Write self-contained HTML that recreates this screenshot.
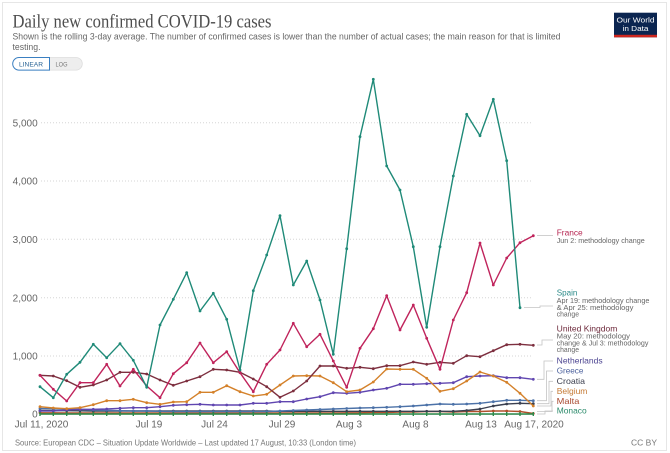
<!DOCTYPE html>
<html>
<head>
<meta charset="utf-8">
<style>
  html,body{margin:0;padding:0;background:#fff;}
  svg{display:block;}
  text{font-family:"Liberation Sans",sans-serif;}
</style>
</head>
<body>
<svg width="670" height="453" viewBox="0 0 670 453" xmlns="http://www.w3.org/2000/svg">
  <defs>
    <marker id="mSp" markerUnits="userSpaceOnUse" markerWidth="4" markerHeight="4" refX="2" refY="2"><circle cx="2" cy="2" r="1.4" fill="#1f8a78"/></marker>
    <marker id="mFr" markerUnits="userSpaceOnUse" markerWidth="4" markerHeight="4" refX="2" refY="2"><circle cx="2" cy="2" r="1.4" fill="#c0245c"/></marker>
    <marker id="mUk" markerUnits="userSpaceOnUse" markerWidth="4" markerHeight="4" refX="2" refY="2"><circle cx="2" cy="2" r="1.4" fill="#7d2f3f"/></marker>
    <marker id="mBe" markerUnits="userSpaceOnUse" markerWidth="4" markerHeight="4" refX="2" refY="2"><circle cx="2" cy="2" r="1.4" fill="#d4812a"/></marker>
    <marker id="mNl" markerUnits="userSpaceOnUse" markerWidth="4" markerHeight="4" refX="2" refY="2"><circle cx="2" cy="2" r="1.4" fill="#6046b0"/></marker>
    <marker id="mGr" markerUnits="userSpaceOnUse" markerWidth="4" markerHeight="4" refX="2" refY="2"><circle cx="2" cy="2" r="1.4" fill="#4c72a8"/></marker>
    <marker id="mHr" markerUnits="userSpaceOnUse" markerWidth="4" markerHeight="4" refX="2" refY="2"><circle cx="2" cy="2" r="1.4" fill="#3b4050"/></marker>
    <marker id="mMt" markerUnits="userSpaceOnUse" markerWidth="4" markerHeight="4" refX="2" refY="2"><circle cx="2" cy="2" r="1.4" fill="#b0502d"/></marker>
    <marker id="mMc" markerUnits="userSpaceOnUse" markerWidth="4" markerHeight="4" refX="2" refY="2"><rect x="1.3" y="0" width="1.4" height="4" fill="#2c8a4a"/></marker>
  </defs>

  <rect x="0" y="0" width="670" height="453" fill="#fff"/>
  <rect x="2.5" y="2.5" width="664" height="448" fill="none" stroke="#e6e6e6" stroke-width="1"/>

  <!-- Header -->
  <text x="12.5" y="27.5" font-family="'Liberation Serif',serif" font-size="18.5" fill="#4d4d4d" textLength="259" lengthAdjust="spacingAndGlyphs" style="font-family:'Liberation Serif',serif">Daily new confirmed COVID-19 cases</text>
  <text x="12.5" y="39.5" font-size="9.6" fill="#666" textLength="548" lengthAdjust="spacingAndGlyphs">Shown is the rolling 3-day average. The number of confirmed cases is lower than the number of actual cases; the main reason for that is limited</text>
  <text x="12.5" y="50" font-size="9.6" fill="#666" textLength="28" lengthAdjust="spacingAndGlyphs">testing.</text>

  <!-- LINEAR / LOG toggle -->
  <path d="M49.5,57.5 H76 a6.3,6.3 0 0 1 0,12.6 H49.5 Z" fill="#eeeeee" stroke="#dddddd" stroke-width="0.8"/>
  <path d="M49.5,57.5 H19 a6.3,6.3 0 0 0 0,12.6 H49.5 Z" fill="#fff" stroke="#3a7fc1" stroke-width="1"/>
  <text x="31" y="66.3" font-size="6.6" fill="#2a6496" text-anchor="middle" textLength="24" lengthAdjust="spacingAndGlyphs">LINEAR</text>
  <text x="61.5" y="66.3" font-size="6.6" fill="#777" text-anchor="middle" textLength="12" lengthAdjust="spacingAndGlyphs">LOG</text>

  <!-- Logo -->
  <rect x="614" y="12.7" width="43" height="24.6" fill="#0b2550"/>
  <rect x="614" y="34.8" width="43" height="2.5" fill="#ce261e"/>
  <text x="635.5" y="22.3" font-size="7.6" fill="#fff" text-anchor="middle" textLength="38" lengthAdjust="spacingAndGlyphs">Our World</text>
  <text x="635.5" y="31.2" font-size="7.6" fill="#fff" text-anchor="middle" textLength="26" lengthAdjust="spacingAndGlyphs">in Data</text>

  <!-- Grid -->
  <g stroke="#d6d6d6" stroke-width="1" stroke-dasharray="1,2">
    <line x1="41" y1="122.7" x2="533" y2="122.7"/>
    <line x1="41" y1="181" x2="533" y2="181"/>
    <line x1="41" y1="239.3" x2="533" y2="239.3"/>
    <line x1="41" y1="297.7" x2="533" y2="297.7"/>
    <line x1="41" y1="356" x2="533" y2="356"/>
  </g>
  <line x1="40" y1="414.3" x2="534" y2="414.3" stroke="#bbb" stroke-width="1"/>

  <!-- Y labels -->
  <g font-size="10" fill="#666" text-anchor="end">
    <text x="37.7" y="126.3">5,000</text>
    <text x="37.7" y="184.6">4,000</text>
    <text x="37.7" y="242.9">3,000</text>
    <text x="37.7" y="301.3">2,000</text>
    <text x="37.7" y="359.6">1,000</text>
    <text x="37.7" y="417.5">0</text>
  </g>

  <!-- X labels -->
  <g font-size="10" fill="#666" text-anchor="middle">
    <text x="41.5" y="427.5">Jul 11, 2020</text>
    <text x="149" y="427.5">Jul 19</text>
    <text x="214.5" y="427.5">Jul 24</text>
    <text x="282" y="427.5">Jul 29</text>
    <text x="349" y="427.5">Aug 3</text>
    <text x="415.5" y="427.5">Aug 8</text>
    <text x="481" y="427.5">Aug 13</text>
    <text x="534" y="427.5">Aug 17, 2020</text>
  </g>

  <!-- Series -->
  <g fill="none" stroke-width="1.4" stroke-linejoin="round">
    <polyline stroke="#b0502d" marker-start="url(#mMt)" marker-mid="url(#mMt)" marker-end="url(#mMt)" points="40,412.8 53.3,412.8 66.7,413 80,413 93.3,413 106.7,413 120,413 133.3,413 146.7,413 160,413 173.3,413 186.7,413 200,413 213.3,413 226.7,413 240,413 253.3,413 266.7,413 280,413 293.3,413 306.7,413 320,413 333.3,413 346.7,412.8 360,412.8 373.3,412.5 386.7,412.5 400,412 413.3,412 426.7,411.5 440,411.5 453.3,412 466.7,411.5 480,411.5 493.3,411 506.7,411 520,411.5 533.3,413.5"/>
    <polyline stroke="#3b4050" marker-start="url(#mHr)" marker-mid="url(#mHr)" marker-end="url(#mHr)" points="40,410.5 53.3,410.5 66.7,410.7 80,410.8 93.3,411 106.7,411 120,411 133.3,411 146.7,411 160,411 173.3,411 186.7,411 200,411 213.3,411 226.7,411 240,411 253.3,411 266.7,411 280,411.3 293.3,411.3 306.7,411.3 320,411.3 333.3,411.3 346.7,411.3 360,411.3 373.3,411.3 386.7,411.3 400,411.3 413.3,411.3 426.7,411.3 440,411.3 453.3,411.3 466.7,410.5 480,409 493.3,406 506.7,404 520,403.3 533.3,403.7"/>
    <polyline stroke="#4c72a8" marker-start="url(#mGr)" marker-mid="url(#mGr)" marker-end="url(#mGr)" points="40,408.5 53.3,408.7 66.7,409 80,409.5 93.3,410 106.7,410.3 120,410.7 133.3,411 146.7,411 160,411.3 173.3,411.5 186.7,411.5 200,411.5 213.3,411.5 226.7,411.5 240,411.5 253.3,411.5 266.7,411.5 280,411 293.3,410.5 306.7,410 320,409.5 333.3,409 346.7,408.5 360,408 373.3,407.7 386.7,407.3 400,406.7 413.3,406 426.7,405 440,404 453.3,404.3 466.7,404 480,403.3 493.3,401.7 506.7,400.3 520,400.3 533.3,400.7"/>
    <polyline stroke="#6046b0" marker-start="url(#mNl)" marker-mid="url(#mNl)" marker-end="url(#mNl)" points="40,411 53.3,411 66.7,410 80,409.3 93.3,409.3 106.7,409 120,408.3 133.3,407.7 146.7,407.7 160,406.7 173.3,405.3 186.7,404.7 200,404.3 213.3,405 226.7,405 240,405 253.3,403.3 266.7,403.3 280,401.7 293.3,401.7 306.7,399 320,396.7 333.3,392.7 346.7,393.3 360,392.3 373.3,390 386.7,388.3 400,384.3 413.3,384.3 426.7,383.7 440,383.3 453.3,382.7 466.7,376.7 480,376 493.3,375.7 506.7,377.7 520,377.7 533.3,379.3"/>
    <polyline stroke="#d4812a" marker-start="url(#mBe)" marker-mid="url(#mBe)" marker-end="url(#mBe)" points="40,406.7 53.3,408 66.7,408.7 80,407.7 93.3,404.7 106.7,400.7 120,400.7 133.3,399.3 146.7,402.7 160,404.3 173.3,402 186.7,401.7 200,392.3 213.3,392.3 226.7,385.7 240,391.7 253.3,396 266.7,394.3 280,385 293.3,376 306.7,375.7 320,376 333.3,382.7 346.7,391.7 360,390 373.3,382 386.7,369 400,369.3 413.3,369.3 426.7,378.3 440,391.3 453.3,388.7 466.7,381 480,372 493.3,376 506.7,382.3 520,393.3 533.3,406"/>
    <polyline stroke="#7d2f3f" marker-start="url(#mUk)" marker-mid="url(#mUk)" marker-end="url(#mUk)" points="40,375.3 53.3,376 66.7,380.7 80,387.3 93.3,385 106.7,380 120,372.3 133.3,372.3 146.7,374 160,380 173.3,385.3 186.7,381 200,376.7 213.3,369.3 226.7,370 240,372.3 253.3,379 266.7,386.7 280,397.3 293.3,391 306.7,381 320,366 333.3,366 346.7,368.3 360,367.3 373.3,368.7 386.7,365.7 400,365.7 413.3,362 426.7,364.3 440,362.3 453.3,363.3 466.7,355.7 480,356.7 493.3,350.7 506.7,344.7 520,344.3 533.3,345.3"/>
    <polyline stroke="#c0245c" marker-start="url(#mFr)" marker-mid="url(#mFr)" marker-end="url(#mFr)" points="40,375.3 53.3,389.3 66.7,401 80,382.7 93.3,382.7 106.7,364.3 120,386 133.3,369.3 146.7,386 160,397.7 173.3,373.7 186.7,362.7 200,343 213.3,362.7 226.7,351.7 240,372.7 253.3,391.7 266.7,364.3 280,350 293.3,323.3 306.7,346.7 320,334.3 333.3,361 346.7,387.3 360,348.3 373.3,328.7 386.7,295.7 400,330 413.3,305 426.7,338.3 440,369.3 453.3,320 466.7,292.7 480,243 493.3,285 506.7,258 520,242.7 533.3,235.7"/>
    <polyline stroke="#1f8a78" marker-start="url(#mSp)" marker-mid="url(#mSp)" marker-end="url(#mSp)" points="40,386.7 53.3,397.7 66.7,374.3 80,362.3 93.3,344.3 106.7,357.7 120,343.7 133.3,360.3 146.7,387.3 160,325 173.3,299.3 186.7,272.7 200,311 213.3,293.3 226.7,319.3 240,370 253.3,290.7 266.7,255 280,215.7 293.3,285 306.7,261 320,300 333.3,354.3 346.7,248.7 360,136.7 373.3,79.3 386.7,166 400,190 413.3,246.7 426.7,327.3 440,246.7 453.3,176 466.7,114.3 480,135.7 493.3,99.3 506.7,160.7 520,307.7"/>
    <polyline stroke="#2c8a4a" marker-start="url(#mMc)" marker-mid="url(#mMc)" marker-end="url(#mMc)" points="40,414 53.3,414 66.7,414 80,414 93.3,414 106.7,414 120,414 133.3,414 146.7,414 160,414 173.3,414 186.7,414 200,414 213.3,414 226.7,414 240,414 253.3,414 266.7,414 280,414 293.3,414 306.7,414 320,414 333.3,414 346.7,414 360,414 373.3,414 386.7,414 400,414 413.3,414 426.7,414 440,414 453.3,414 466.7,414 480,414 493.3,414 506.7,414 520,414 533.3,414"/>
  </g>

  <!-- Connectors -->
  <g fill="none" stroke="#c4c4c4" stroke-width="0.8">
    <polyline points="537,235.5 553,235.5"/>
    <polyline points="524,307.5 540,307.5 540,306 553,306"/>
    <polyline points="537,345 542,345 542,340 553,340"/>
    <polyline points="537,379.3 544,379.3 544,361 553,361"/>
    <polyline points="537,400.7 546.5,400.7 546.5,371 553,371"/>
    <polyline points="537,403.7 549,403.7 549,381.3 553,381.3"/>
    <polyline points="537,406 551,406 551,391.3 553,391.3"/>
    <polyline points="537,411.5 552,411.5 552,401.3 553.5,401.3"/>
    <polyline points="537,414 545,414 545,411 553,411"/>
  </g>

  <!-- Labels -->
  <text x="556.7" y="235.7" font-size="8.5" fill="#b5234f" textLength="26" lengthAdjust="spacingAndGlyphs">France</text>
  <text x="556.7" y="243" font-size="7.2" fill="#666" textLength="88" lengthAdjust="spacingAndGlyphs">Jun 2: methodology change</text>

  <text x="556.7" y="295.7" font-size="8.5" fill="#2a8a88" textLength="20.7" lengthAdjust="spacingAndGlyphs">Spain</text>
  <text x="556.7" y="303.2" font-size="7.2" fill="#666" textLength="92.7" lengthAdjust="spacingAndGlyphs">Apr 19: methodology change</text>
  <text x="556.7" y="309.9" font-size="7.2" fill="#666" textLength="76.7" lengthAdjust="spacingAndGlyphs">&amp; Apr 25: methodology</text>
  <text x="556.7" y="316.6" font-size="7.2" fill="#666" textLength="22.3" lengthAdjust="spacingAndGlyphs">change</text>

  <text x="556.7" y="331.3" font-size="8.5" fill="#6e2a3c" textLength="60.7" lengthAdjust="spacingAndGlyphs">United Kingdom</text>
  <text x="556.7" y="338.4" font-size="7.2" fill="#666" textLength="73.3" lengthAdjust="spacingAndGlyphs">May 20: methodology</text>
  <text x="556.7" y="345.3" font-size="7.2" fill="#666" textLength="91.7" lengthAdjust="spacingAndGlyphs">change &amp; Jul 3: methodology</text>
  <text x="556.7" y="352" font-size="7.2" fill="#666" textLength="22.3" lengthAdjust="spacingAndGlyphs">change</text>

  <text x="556.7" y="363.7" font-size="8.5" fill="#4b4390" textLength="46" lengthAdjust="spacingAndGlyphs">Netherlands</text>
  <text x="556.7" y="373.7" font-size="8.5" fill="#4a5f9c" textLength="26.7" lengthAdjust="spacingAndGlyphs">Greece</text>
  <text x="556.7" y="384" font-size="8.5" fill="#3b3f4e" textLength="28.3" lengthAdjust="spacingAndGlyphs">Croatia</text>
  <text x="556.7" y="394" font-size="8.5" fill="#c57a35" textLength="30.7" lengthAdjust="spacingAndGlyphs">Belgium</text>
  <text x="556.7" y="404" font-size="8.5" fill="#a8482e" textLength="22.7" lengthAdjust="spacingAndGlyphs">Malta</text>
  <text x="556.7" y="413.7" font-size="8.5" fill="#2a8a6a" textLength="30" lengthAdjust="spacingAndGlyphs">Monaco</text>

  <!-- Footer -->
  <text x="15" y="445.5" font-size="8.5" fill="#777" textLength="341" lengthAdjust="spacingAndGlyphs">Source: European CDC – Situation Update Worldwide – Last updated 17 August, 10:33 (London time)</text>
  <text x="657" y="445.5" font-size="8.5" fill="#777" text-anchor="end">CC BY</text>
</svg>
</body>
</html>
